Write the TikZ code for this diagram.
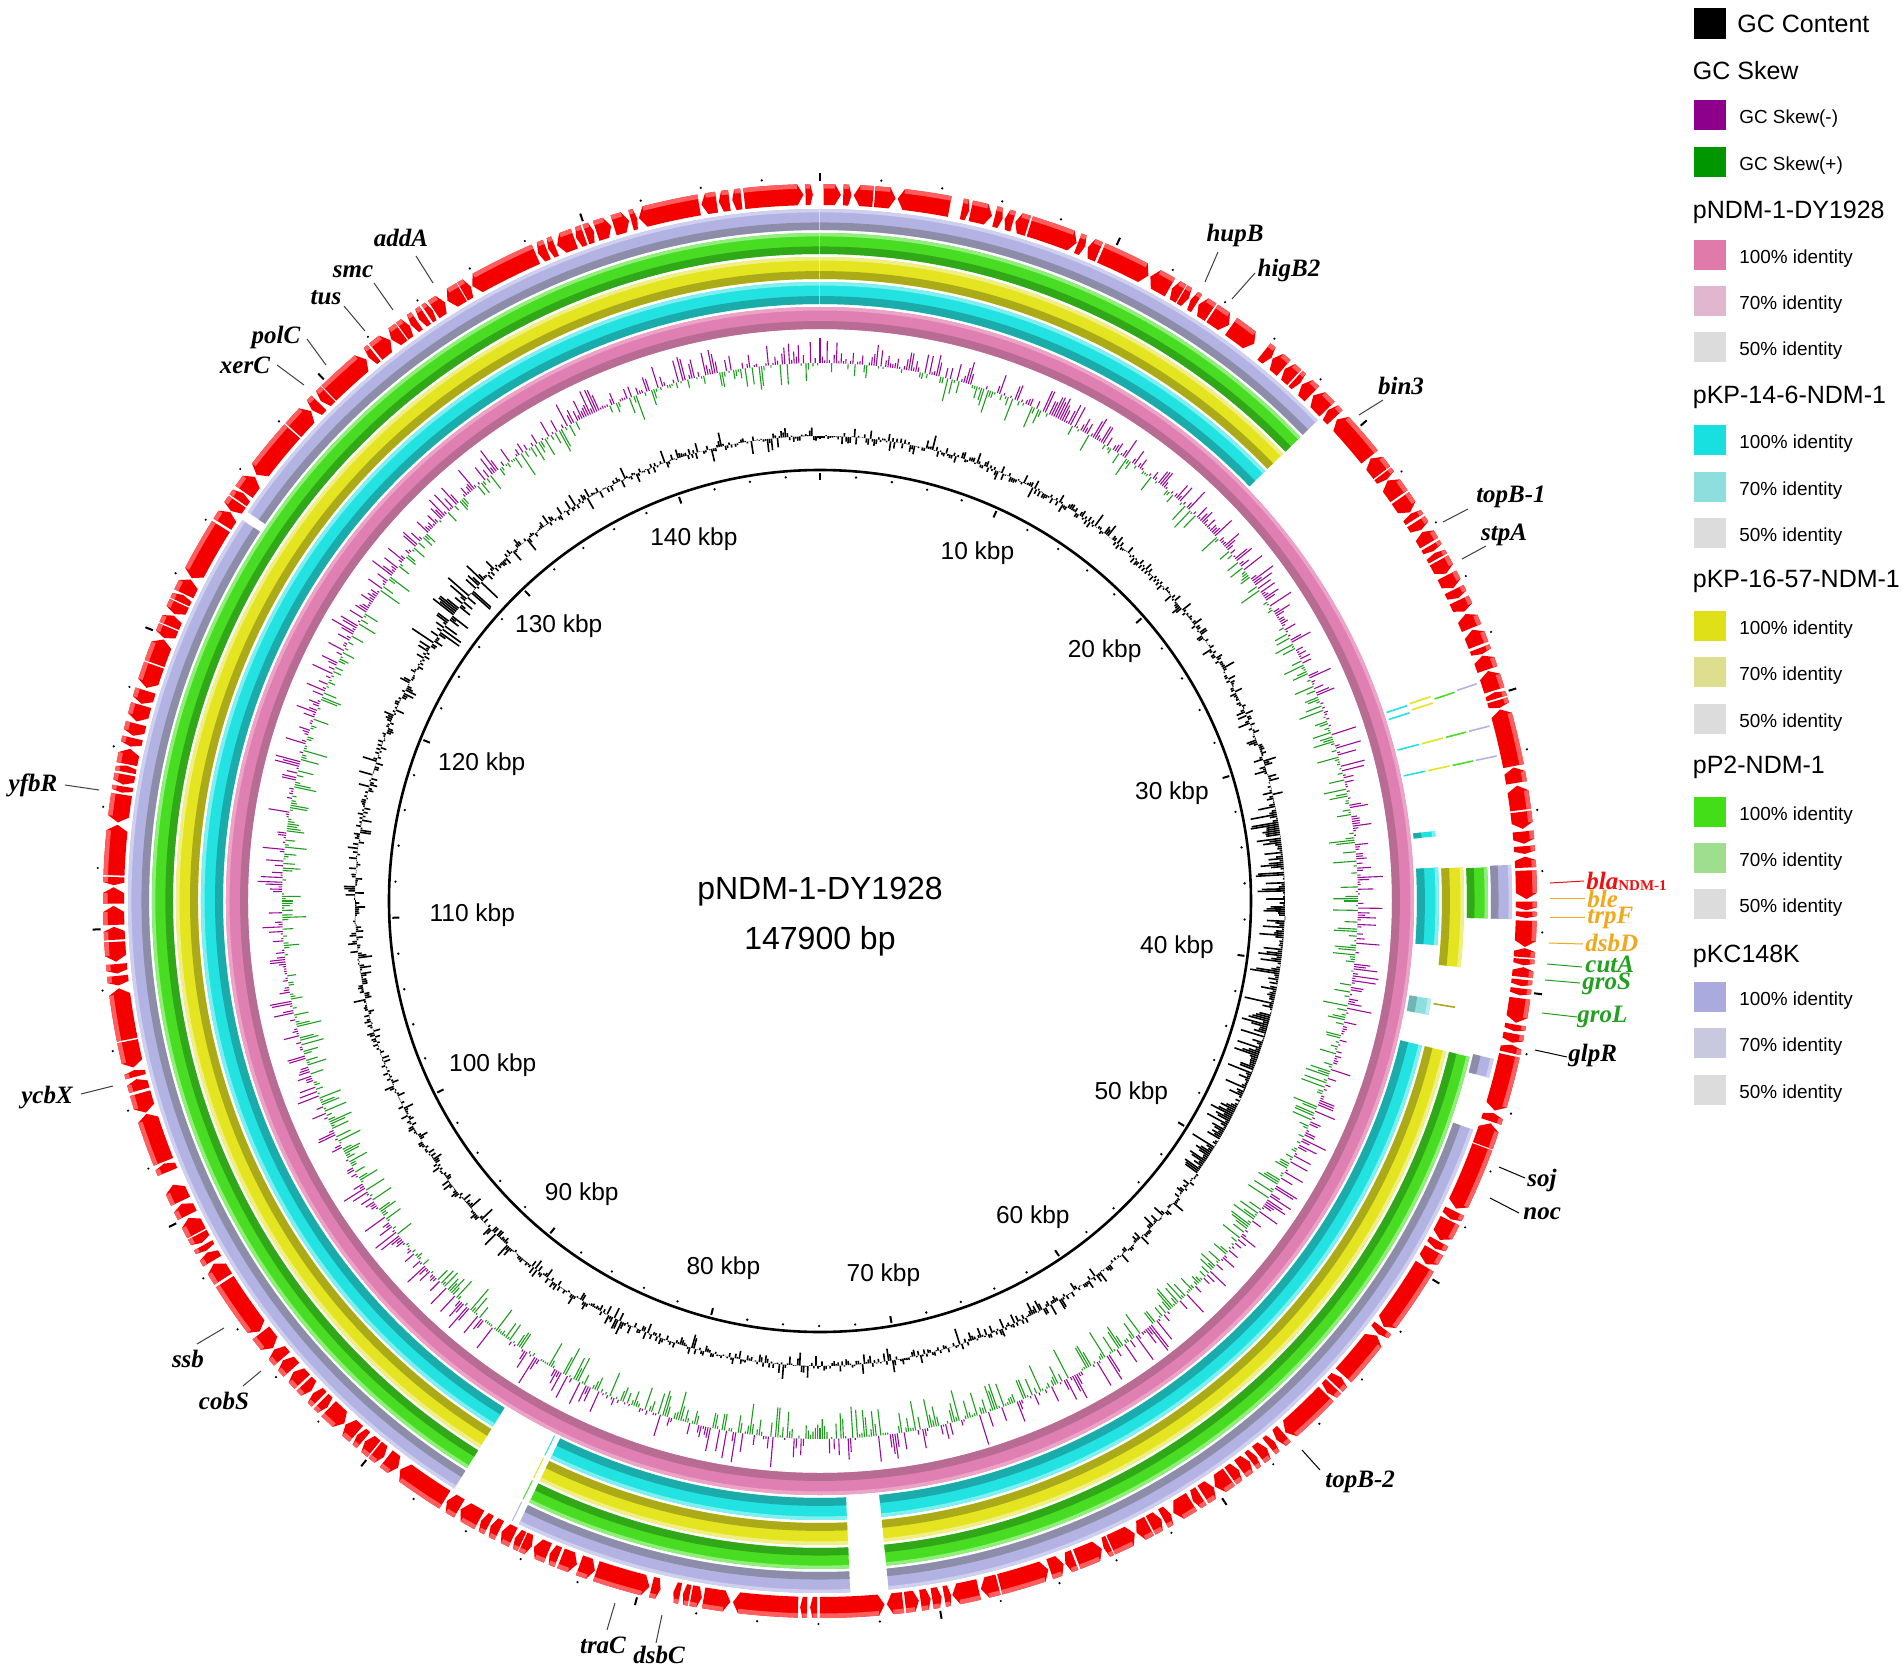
\documentclass[tikz,border=0pt]{standalone}
\usepackage{fontspec}
\setmainfont{Liberation Sans}
\newfontfamily\tnr{Liberation Serif}
\definecolor{pk}{HTML}{E07FB1}\definecolor{pkdk}{HTML}{B86C93}\definecolor{pklt}{HTML}{EBA3C8}
\definecolor{cy}{HTML}{22E2E2}\definecolor{cydk}{HTML}{1CABAB}\definecolor{cylt}{HTML}{80EFEF}
\definecolor{cy70}{HTML}{8EDEDE}\definecolor{cy70dk}{HTML}{6FB5B5}\definecolor{cy70lt}{HTML}{B5EEEE}
\definecolor{ye}{HTML}{E4E420}\definecolor{yedk}{HTML}{ABAB1A}\definecolor{yelt}{HTML}{EFEF85}
\definecolor{gr}{HTML}{48DD22}\definecolor{grdk}{HTML}{30A818}\definecolor{grlt}{HTML}{90EE7A}
\definecolor{lv}{HTML}{B3B3E3}\definecolor{lvdk}{HTML}{8D8DAA}\definecolor{lvlt}{HTML}{CFCFEF}
\definecolor{skm}{HTML}{9A0A9A}\definecolor{skp}{HTML}{1E9E1E}
\definecolor{gene}{HTML}{F50000}\definecolor{genelt}{HTML}{FF5E5E}
\definecolor{labred}{HTML}{F01010}\definecolor{laborange}{HTML}{F2A81D}\definecolor{labgreen}{HTML}{22A022}
\definecolor{legpur}{HTML}{8C008C}\definecolor{leggrn}{HTML}{009600}
\definecolor{pk100}{HTML}{E07AAA}\definecolor{pk70}{HTML}{E0B7CE}
\definecolor{cy100}{HTML}{19E0E0}\definecolor{cyl70}{HTML}{8FDEDE}
\definecolor{ye100}{HTML}{E0E019}\definecolor{ye70}{HTML}{DEDE8F}
\definecolor{gr100}{HTML}{44DE19}\definecolor{gr70}{HTML}{A0DE8F}
\definecolor{lv100}{HTML}{AAAADE}\definecolor{lv70}{HTML}{C8C8DE}
\definecolor{g50}{HTML}{DCDCDC}
\newcommand\ringseg[5]{\fill[#1] (#4:#3) arc[start angle=#4,end angle=#5,radius=#3] -- (#5:#2) arc[start angle=#5,end angle=#4,radius=#2] -- cycle;}
\newcommand\ringpart[5]{\pgfmathsetmacro\rrA{#2+0.36*(#3-#2)}\pgfmathsetmacro\rrB{#3-0.16*(#3-#2)}\ringseg{#1}{#2}{#3}{#4}{#5}\ringseg{#1dk}{#2}{\rrA}{#4}{#5}\ringseg{#1lt}{\rrB}{#3}{#4}{#5}}
\begin{document}
\begin{tikzpicture}[x=0.5pt,y=0.5pt,
  gcc/.style={line width=0.8pt, draw=black},
  skmline/.style={line width=0.55pt, draw=skm},
  skpline/.style={line width=0.55pt, draw=skp},
  tk/.style={line width=1pt},
  kbp/.style={font=\fontsize{12.25}{14}\selectfont, inner sep=0pt},
  ttl/.style={font=\fontsize{16}{19}\selectfont, inner sep=0pt},
  glab/.style={font=\tnr\bfseries\itshape\fontsize{12.5}{15}\selectfont, inner sep=0pt},
  lead/.style={line width=0.5pt, draw=black!75},
  legh/.style={font=\fontsize{12.5}{15}\selectfont, anchor=west, inner sep=0pt},
  legi/.style={font=\fontsize{9.45}{12}\selectfont, anchor=west, inner sep=0pt}]
\useasboundingbox (-820,-771) rectangle (1082,901);
\fill[white] (-820,-771) rectangle (1082,901);
% ---------- comparison rings ----------
\ringpart{pk}{572}{594}{90}{-270}
\foreach \angA/\angB in {90/44,-13.5/-84.3,-87.5/-115.8,-121.9/-270,3.1/-4.1,6.5/6.0}{\ringpart{cy}{597}{619}{\angA}{\angB}}
\ringpart{cy70}{597}{619}{-9.1}{-10.6}
\foreach \angA/\angB in {90/44,-13.5/-84.3,-87.5/-115.8,-121.9/-270,3.0/-5.9}{\ringpart{ye}{622}{644}{\angA}{\angB}}
\foreach \angA/\angB in {90/44,-13.5/-84.3,-87.5/-115.8,-121.9/-270,2.9/-1.5}{\ringpart{gr}{647}{668}{\angA}{\angB}}
\foreach \angA/\angB in {90/44,-13.2/-14.8,-19.3/-84.3,-87.5/-115.8,-121.9/-213.4,-214.2/-270,3.0/-1.5}{\ringpart{lv}{671}{692}{\angA}{\angB}}
% fragments
\foreach \cc/\angA/\ri/\ro in {cy/17.7/597/619,cy/18.4/597/619,ye/17.9/622/644,ye/18.5/622/644,gr/18.2/647/668,lv/18.3/671/692,
  cy/14.65/597/619,ye/14.65/622/644,gr/14.65/647/668,lv/14.65/671/692,
  cy/12.1/597/619,ye/12.1/622/644,gr/12.1/647/668,lv/12.1/671/692}{\draw[\cc, line width=0.8pt] (\angA:\ri) -- (\angA:\ro);}
\foreach \cc/\ri/\ro in {cy/597/619,ye/622/644,gr/647/668,lv/671/692}{\draw[\cc, line width=0.5pt] (-116.4:\ri) -- (-116.4:\ro);}
\draw[yedk, line width=0.8pt] (-9.5:622) -- (-9.5:644);
\draw[white, opacity=0.5, line width=0.5pt] (90:597) -- (90:692);
% ---------- GC content ----------
\pgfmathsetseed{4242}
\foreach \kk in {0,...,1439}{%
  \pgfmathsetmacro\bb{\kk*0.25}%
  \pgfmathsetmacro\ru{rnd}%
  \pgfmathsetmacro\rw{rnd}%
  \pgfmathsetmacro\glen{((\bb>78)&&(\bb<126)) ? (6*\rw-5-26*\ru*\ru) : (((\bb>303)&&(\bb<314)) ? (28*(2*\ru-1)) : ((2*\ru-1)*(4.5+13*\rw*\rw*\rw)))}%
  \draw[gcc] ({90-\bb}:465) -- ({90-\bb}:{465+(\glen)});
}
% ---------- GC skew ----------
\pgfmathsetseed{1928}
\foreach \kk in {0,...,1439}{%
  \pgfmathsetmacro\bb{\kk*0.25}%
  \pgfmathsetmacro\pp{((\bb<60)||(\bb>300)) ? 0.62 : (((\bb>135)&&(\bb<225)) ? 0.36 : 0.5)}%
  \pgfmathsetmacro\gamp{((\bb>135)&&(\bb<225)) ? 30 : 24}%
  \pgfmathsetmacro\ru{rnd}%
  \pgfmathsetmacro\rw{rnd}%
  \pgfmathsetmacro\glen{2+\gamp*\rw*\rw}%
  \pgfmathtruncatemacro\isp{(\ru<\pp) ? 1 : 0}%
  \ifnum\isp=1
    \draw[skmline] ({90-\bb}:538) -- ({90-\bb}:{538+\glen});
  \else
    \draw[skpline] ({90-\bb}:538) -- ({90-\bb}:{538-\glen});
  \fi}
% ---------- backbone ----------
\draw[line width=1.3pt] (0,0) circle[radius=431];
\foreach \kk in {0,...,73}{%
  \pgfmathsetmacro\ang{90-\kk*4.868154}%
  \pgfmathtruncatemacro\mm{mod(\kk,5)}%
  \ifnum\mm=0
    \draw[tk] (\ang:421) -- (\ang:428);
    \draw[tk] (\ang:720) -- (\ang:728);
  \else
    \fill (\ang:425) circle[radius=1.3];
    \fill (\ang:723) circle[radius=1.2];
  \fi}
% ---------- genes ----------
\pgfmathsetseed{777}
\xdef\gcur{89.7}
\foreach \ii in {1,...,400}{%
  \pgfmathsetmacro\geL{0.5+2.4*rnd*rnd+((rnd<0.1)?3.5:0)}%
  \pgfmathsetmacro\gep{0.1+0.15*rnd+((rnd<0.05)?0.9:0)}%
  \pgfmathsetmacro\geB{\gcur-\geL}%
  \pgfmathtruncatemacro\ok{(\geB>-269.7)?1:0}%
  \ifnum\ok=1
    \pgfmathsetmacro\tpl{min(0.5,0.35*\geL)}%
    \pgfmathtruncatemacro\dr{(rnd<0.5)?1:0}%
    \ifnum\dr=1
      \pgfmathsetmacro\geT{\geB+\tpl}%
      \fill[gene] (\gcur:717) arc[start angle=\gcur,end angle=\geT,radius=717] -- (\geB:706.5) -- (\geT:696) arc[start angle=\geT,end angle=\gcur,radius=696] -- cycle;
      \fill[genelt] (\gcur:717) arc[start angle=\gcur,end angle=\geT,radius=717] -- (\geT:712.5) arc[start angle=\geT,end angle=\gcur,radius=712.5] -- cycle;
    \else
      \pgfmathsetmacro\geT{\gcur-\tpl}%
      \fill[gene] (\geT:717) arc[start angle=\geT,end angle=\geB,radius=717] -- (\geB:696) arc[start angle=\geB,end angle=\geT,radius=696] -- (\gcur:706.5) -- cycle;
      \fill[genelt] (\geT:717) arc[start angle=\geT,end angle=\geB,radius=717] -- (\geB:712.5) arc[start angle=\geB,end angle=\geT,radius=712.5] -- cycle;
    \fi
  \fi
  \pgfmathsetmacro\nga{\geB-\gep}%
  \xdef\gcur{\nga}%
}
% ---------- kbp labels & title ----------
\foreach \pv/\rad in {10/382,20/379,30/368,40/360,50/366,60/381,70/380,80/380,90/378,100/366,110/348,120/365,130/379,140/383}{%
  \pgfmathsetmacro\ang{90-\pv*2.434077}%
  \node[kbp] (k\pv) at (\ang:\rad) {\pv\ kbp};}
\node[ttl] (t1) at (0,9) {pNDM-1-DY1928};
\node[ttl] (t2) at (0,-40) {147900 bp};
% ---------- gene labels ----------
\foreach \nm/\xx/\yy/\ax/\ay/\bx/\by in {
 addA/-419/663/-404/645/-387/618,
 smc/-467/629/-446/618/-427/591,
 tus/-494/603/-476/595/-455/570,
 polC/-544/564/-513/562/-494/536,
 xerC/-575/536/-543/536/-516/516,
 yfbR/-787/116/-755/116/-721/111,
 ycbX/-773/-197/-739/-193/-707/-185,
 hupB/415/666/398/649/385/619,
 higB2/469/631/435/628/412/602,
 bin3/581/515/563/501/539/486,
 topB-1/691/404/648/392/623/379,
 stpA/684/366/666/355/642/342,
 ssb/-632/-458/-623/-443/-596/-427,
 cobS/-596/-500/-577/-485/-559/-470,
 traC/-217/-744/-213/-729/-205/-702,
 dsbC/-161/-754/-164/-742/-158/-714}{%
 \node[glab] (\nm) at (\xx,\yy) {\nm};
 \coordinate (\nm-a) at (\ax,\ay);
 \coordinate (\nm-b) at (\bx,\by);
 \draw[lead] (\nm-a) -- (\nm-b);}
\node[glab, text=labred, anchor=west] (bla) at (766,20) {bla{\upshape\fontsize{7.5}{9}\selectfont\raisebox{-0.5pt}{NDM-1}}};
\coordinate (bla-a) at (730,18);
\coordinate (bla-b) at (764,20);
\draw[lead, draw=labred] (bla-a) -- (bla-b);
\foreach \nm/\col/\xx/\yy/\ax/\ay/\bx/\by in {
 ble/laborange/767/2/730/3/765/3,
 trpF/laborange/767/-17/730/-16/765/-16,
 dsbD/laborange/765/-42/729/-42/763/-43,
 cutA/labgreen/765/-63/727/-63/762/-66,
 groS/labgreen/762/-83/725/-79/760/-82,
 groL/labgreen/757/-116/722/-112/757/-116,
 glpR/black/748/-154/715/-149/747/-156,
 soj/black/707/-279/679/-266/705/-277,
 noc/black/703/-313/670/-297/699/-312,
 topB-2/black/505/-581/482/-549/500/-569}{%
 \node[glab, text=\col, anchor=west] (\nm) at (\xx,\yy) {\nm};
 \coordinate (\nm-a) at (\ax,\ay);
 \coordinate (\nm-b) at (\bx,\by);
 \draw[lead, draw=\col] (\nm-a) -- (\nm-b);}
% ---------- legend ----------
\fill[black] (874,862) rectangle (906,893);
\node[legh] (lgc) at (917,877) {GC Content};
\node[legh] (lsk) at (872.5,830.6) {GC Skew};
\node[legh] (h1) at (872.5,688.5) {pNDM-1-DY1928};
\node[legh] (h2) at (872.5,504) {pKP-14-6-NDM-1};
\node[legh] (h3) at (872.5,319.6) {pKP-16-57-NDM-1};
\node[legh] (h4) at (872.5,134) {pP2-NDM-1};
\node[legh] (h5) at (872.5,-55) {pKC148K};
\foreach \col/\yy/\txt/\nm in {
 legpur/786/GC Skew(-)/l1, leggrn/739.4/GC Skew(+)/l2,
 pk100/646.4/100\% identity/l3, pk70/600/70\% identity/l4, g50/554/50\% identity/l5,
 cy100/461/100\% identity/l6, cyl70/414.4/70\% identity/l7, g50/368/50\% identity/l8,
 ye100/275.3/100\% identity/l9, ye70/229.4/70\% identity/l10, g50/182.5/50\% identity/l11,
 gr100/89.2/100\% identity/l12, gr70/43.3/70\% identity/l13, g50/-3/50\% identity/l14,
 lv100/-96/100\% identity/l15, lv70/-142/70\% identity/l16, g50/-189/50\% identity/l17}{%
 \fill[\col] (874,{\yy-15}) rectangle (906,{\yy+15});
 \node[legi] (\nm) at (919,{\yy-4}) {\txt};}
\end{tikzpicture}
\end{document}
